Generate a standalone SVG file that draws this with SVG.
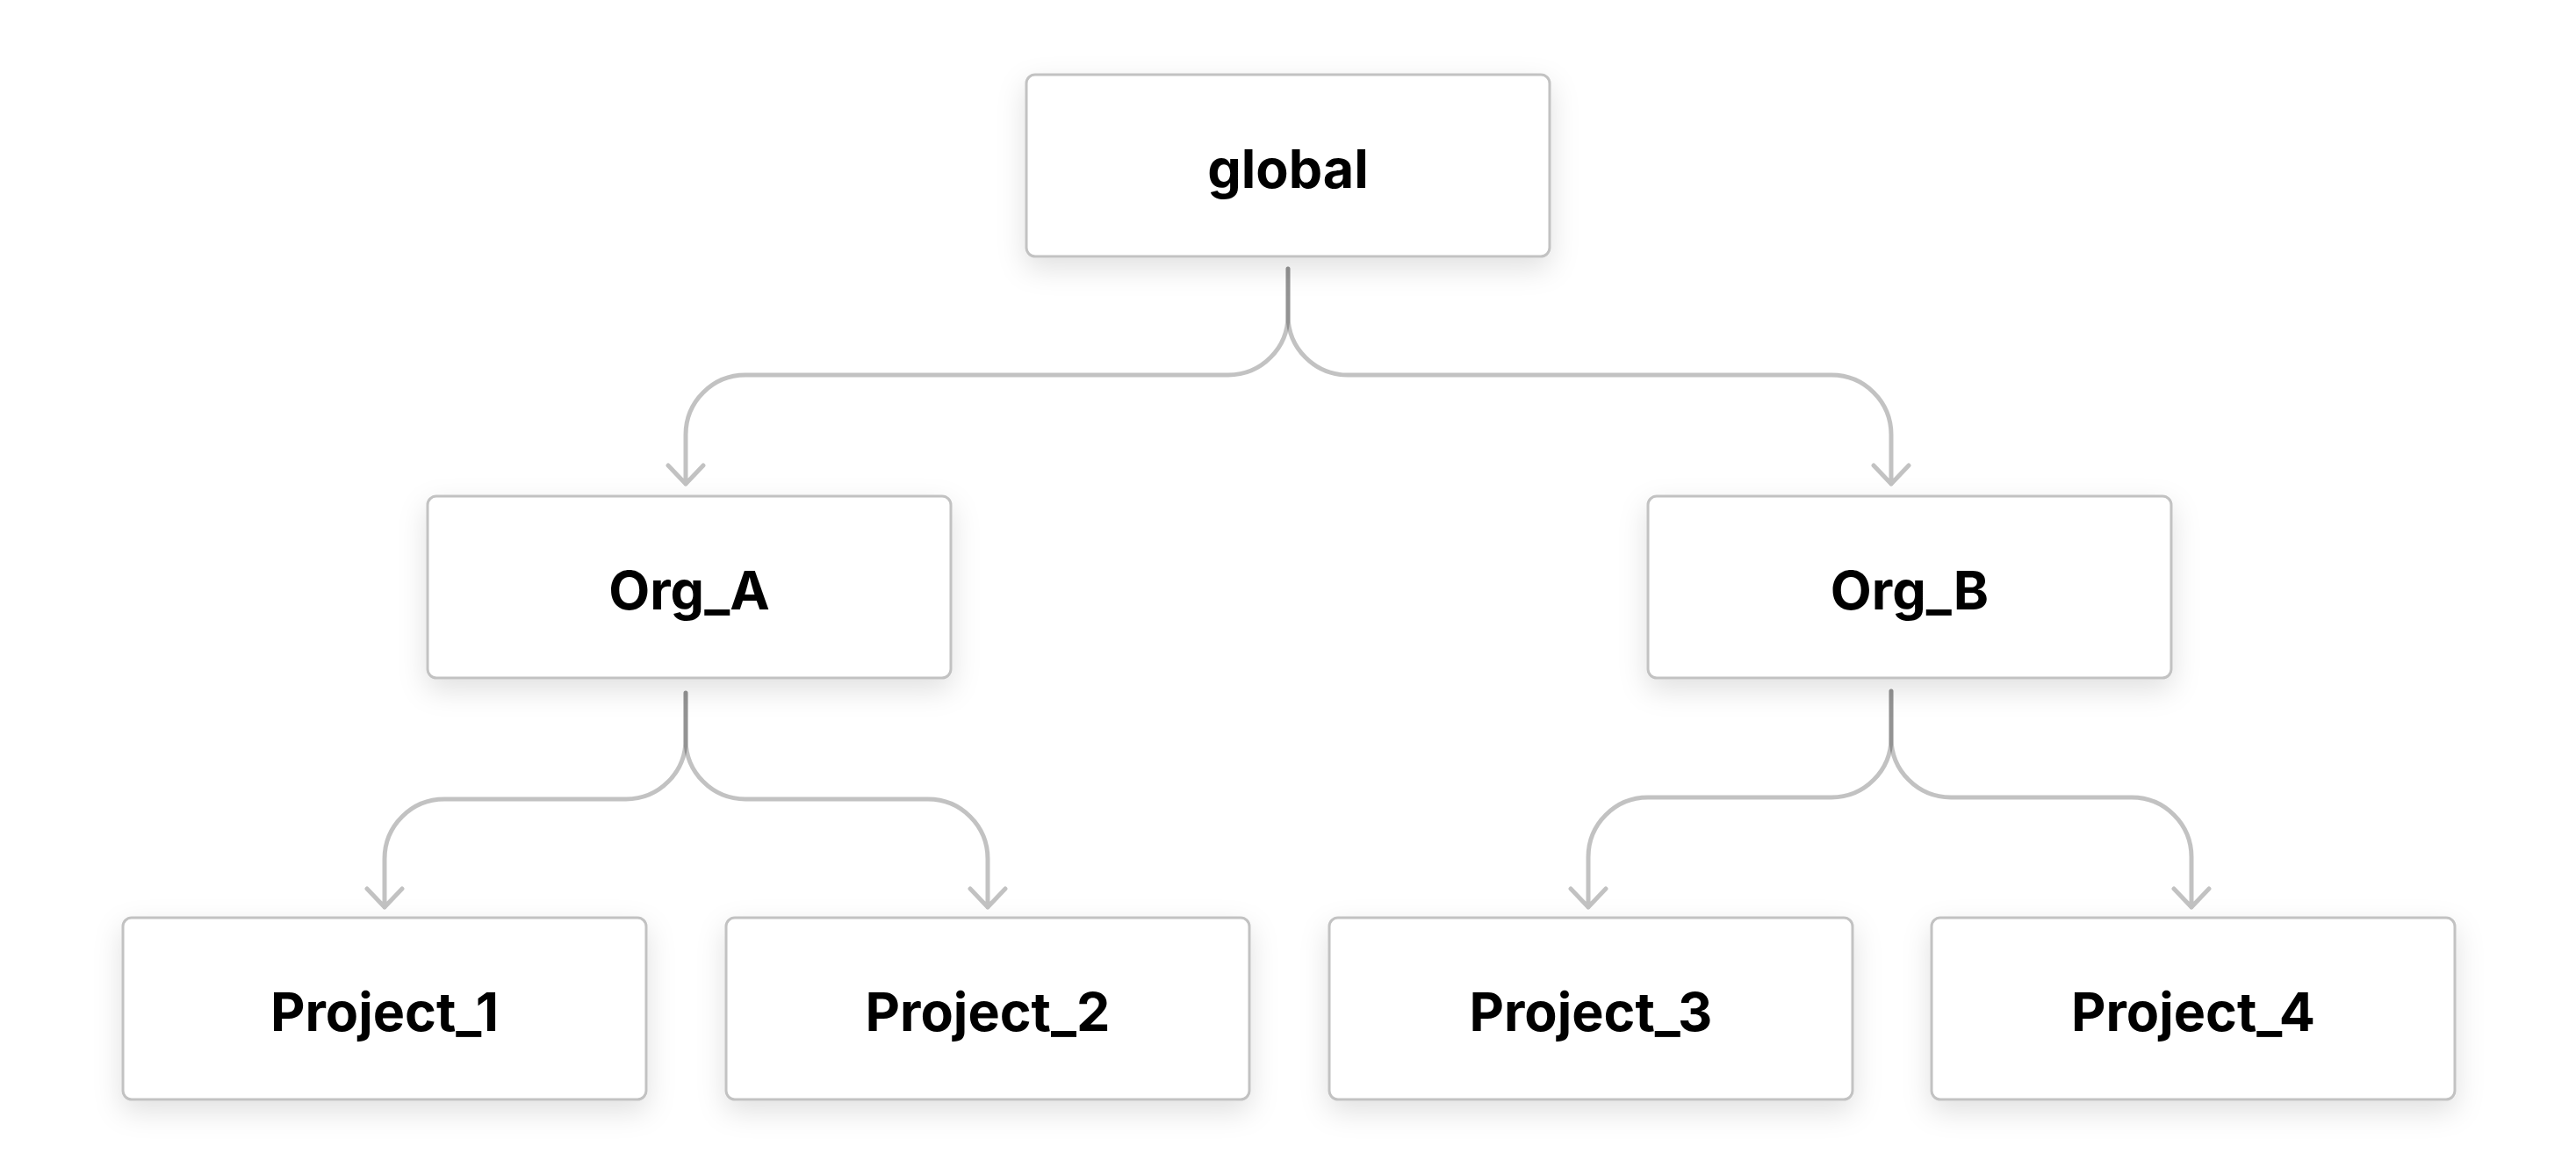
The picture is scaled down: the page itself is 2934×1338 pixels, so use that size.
<svg xmlns="http://www.w3.org/2000/svg" width="2934" height="1338" viewBox="0 0 2934 1338">
  <style>
    .box { fill: #ffffff; stroke: #c2c2c2; stroke-width: 3; filter: url(#shadow); }
    .label { font-family: Inter, "Liberation Sans", sans-serif; font-weight: 700; font-size: 61px; fill: #000000; text-anchor: middle; }
    .conn { fill: none; stroke: #000000; stroke-opacity: 0.24; stroke-width: 5; stroke-linecap: round; stroke-linejoin: round; }
  </style>
  <defs>
    <filter id="shadow" x="-20%" y="-30%" width="140%" height="180%">
      <feDropShadow dx="0" dy="12" stdDeviation="16" flood-color="#000000" flood-opacity="0.12"/>
    </filter>
  </defs>
  <rect width="2934" height="1338" fill="#ffffff"/>

  <g id="connectors">
    <!-- global -> Org_A -->
    <path class="conn" d="M1467,306 V359 A68,68 0 0 1 1399,427 H849 A68,68 0 0 0 781,495 V551 M761,530 L781,551 L801,530"/>
    <!-- global -> Org_B -->
    <path class="conn" d="M1467,306 V359 A68,68 0 0 0 1535,427 H2086 A68,68 0 0 1 2154,495 V551 M2134,530 L2154,551 L2174,530"/>
    <!-- Org_A -> Project_1 -->
    <path class="conn" d="M781,789 V842 A68,68 0 0 1 713,910 H506 A68,68 0 0 0 438,978 V1033 M418,1012 L438,1033 L458,1012"/>
    <!-- Org_A -> Project_2 -->
    <path class="conn" d="M781,789 V842 A68,68 0 0 0 849,910 H1057 A68,68 0 0 1 1125,978 V1033 M1105,1012 L1125,1033 L1145,1012"/>
    <!-- Org_B -> Project_3 -->
    <path class="conn" d="M2154,787 V840 A68,68 0 0 1 2086,908 H1877 A68,68 0 0 0 1809,976 V1033 M1789,1012 L1809,1033 L1829,1012"/>
    <!-- Org_B -> Project_4 -->
    <path class="conn" d="M2154,787 V840 A68,68 0 0 0 2222,908 H2428 A68,68 0 0 1 2496,976 V1033 M2476,1012 L2496,1033 L2516,1012"/>
  </g>

  <g id="node-global">
    <rect class="box" x="1169" y="85" width="596" height="207" rx="10"/>
    <text class="label" x="1467" y="214">global</text>
  </g>
  <g id="node-org-a">
    <rect class="box" x="487" y="565" width="596" height="207" rx="10"/>
    <text class="label" x="785" y="694">Org_A</text>
  </g>
  <g id="node-org-b">
    <rect class="box" x="1877" y="565" width="596" height="207" rx="10"/>
    <text class="label" x="2175" y="694">Org_B</text>
  </g>
  <g id="node-project-1">
    <rect class="box" x="140" y="1045" width="596" height="207" rx="10"/>
    <text class="label" x="438" y="1174">Project_1</text>
  </g>
  <g id="node-project-2">
    <rect class="box" x="827" y="1045" width="596" height="207" rx="10"/>
    <text class="label" x="1125" y="1174">Project_2</text>
  </g>
  <g id="node-project-3">
    <rect class="box" x="1514" y="1045" width="596" height="207" rx="10"/>
    <text class="label" x="1812" y="1174">Project_3</text>
  </g>
  <g id="node-project-4">
    <rect class="box" x="2200" y="1045" width="596" height="207" rx="10"/>
    <text class="label" x="2498" y="1174">Project_4</text>
  </g>
</svg>
